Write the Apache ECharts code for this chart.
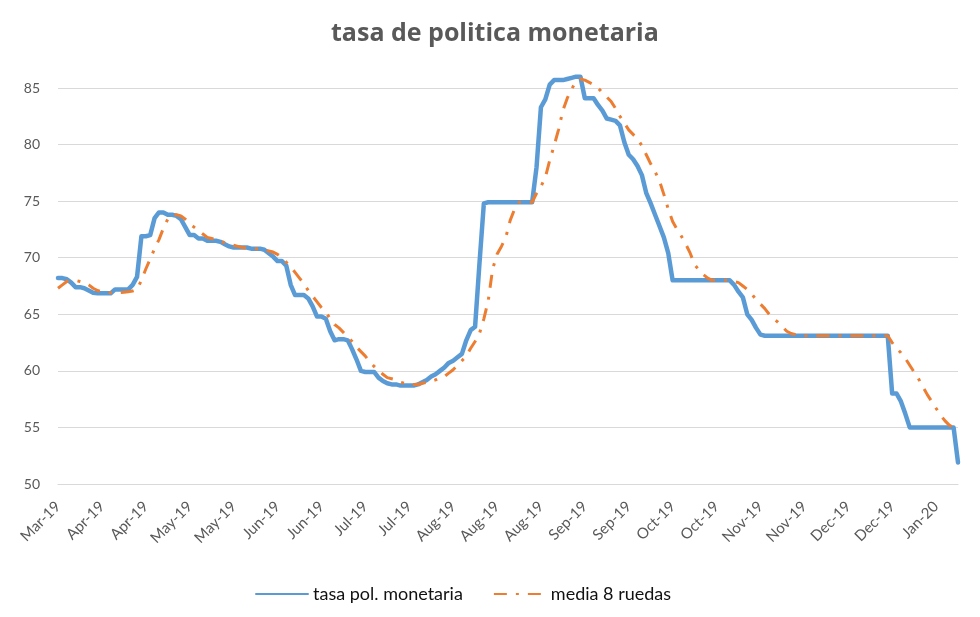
<!DOCTYPE html>
<html>
<head>
<meta charset="utf-8">
<script src="https://cdn.jsdelivr.net/npm/echarts@6/dist/echarts.min.js"></script>
<style>
html,body{margin:0;padding:0;background:#fff;}
#chart{width:980px;height:617px;}
</style>
</head>
<body>
<div id="chart"></div>
<script>
const tickLabels = ["Mar-19","Apr-19","Apr-19","May-19","May-19","Jun-19","Jun-19","Jul-19","Jul-19","Aug-19","Aug-19","Aug-19","Sep-19","Sep-19","Oct-19","Oct-19","Nov-19","Nov-19","Dec-19","Dec-19","Jan-20"];

const tasaPol = [
68.2,68.2,68.1,67.8,67.4,67.4,67.3,67.1,66.9,66.85,
66.85,66.85,66.85,67.2,67.2,67.2,67.2,67.6,68.3,71.9,
71.9,72.0,73.5,74.0,74.0,73.8,73.8,73.7,73.4,72.7,
72.0,72.0,71.7,71.7,71.5,71.5,71.5,71.4,71.2,71.0,
70.9,70.9,70.9,70.9,70.8,70.8,70.8,70.7,70.4,70.1,
69.7,69.7,69.3,67.6,66.7,66.7,66.7,66.4,65.7,64.8,
64.8,64.6,63.5,62.7,62.8,62.8,62.7,61.9,61.0,60.0,
59.9,59.9,59.9,59.4,59.1,58.9,58.8,58.8,58.7,58.7,
58.7,58.7,58.8,59.0,59.2,59.5,59.7,60.0,60.3,60.7,
60.9,61.2,61.5,62.7,63.6,63.9,69.5,74.8,74.9,74.9,
74.9,74.9,74.9,74.9,74.9,74.9,74.9,74.9,74.9,78.0,
83.3,84.0,85.3,85.7,85.7,85.7,85.8,85.9,86.0,86.0,
84.1,84.1,84.1,83.5,83.0,82.3,82.2,82.1,81.7,80.2,
79.1,78.7,78.1,77.3,75.7,74.8,73.8,72.8,71.8,70.4,
68.0,68.0,68.0,68.0,68.0,68.0,68.0,68.0,68.0,68.0,
68.0,68.0,68.0,68.0,67.6,67.0,66.5,65.0,64.5,63.8,
63.2,63.1,63.1,63.1,63.1,63.1,63.1,63.1,63.1,63.1,
63.1,63.1,63.1,63.1,63.1,63.1,63.1,63.1,63.1,63.1,
63.1,63.1,63.1,63.1,63.1,63.1,63.1,63.1,63.1,63.1,
58.0,58.0,57.3,56.2,55.0,55.0,55.0,55.0,55.0,55.0,
55.0,55.0,55.0,55.0,55.0,51.9
];

const media8 = [
67.3,67.6,67.9,68.0,68.0,67.9,67.8,67.6,67.3,67.1,
67.0,66.95,66.9,66.9,66.9,66.95,67.0,67.05,67.2,68.0,
69.0,69.9,70.8,71.6,72.6,73.4,73.8,73.8,73.7,73.4,
73.0,72.7,72.4,72.1,71.8,71.7,71.6,71.5,71.3,71.2,
71.1,71.0,70.9,70.85,70.8,70.8,70.8,70.7,70.6,70.5,
70.3,70.0,69.6,69.2,68.7,68.2,67.7,67.1,66.6,66.1,
65.6,65.2,64.6,64.1,63.8,63.4,63.0,62.6,62.1,61.7,
61.3,60.8,60.4,60.0,59.7,59.4,59.3,59.2,59.0,58.9,
58.8,58.8,58.8,58.9,59.0,59.1,59.2,59.4,59.5,59.8,
60.1,60.5,60.9,61.3,62.0,62.6,63.3,64.6,66.2,69.0,
70.3,71.0,71.8,73.3,74.3,74.9,74.9,74.9,74.9,75.7,
76.3,77.1,78.6,79.9,81.3,83.0,84.1,84.9,85.6,85.8,
85.7,85.5,85.3,85.0,84.6,84.2,83.8,83.2,82.5,81.9,
81.3,80.9,80.5,79.9,79.1,78.3,77.6,76.8,75.6,74.3,
73.2,72.5,71.9,71.2,70.4,69.4,68.9,68.5,68.2,68.0,
68.0,68.0,68.0,68.0,67.9,67.8,67.5,67.2,66.8,66.3,
65.9,65.5,65.0,64.6,64.3,63.9,63.5,63.3,63.2,63.1,
63.1,63.1,63.1,63.1,63.1,63.1,63.1,63.1,63.1,63.1,
63.1,63.1,63.1,63.1,63.1,63.1,63.1,63.1,63.1,63.1,
62.5,62.0,61.6,61.1,60.5,59.9,59.3,58.6,57.9,57.3,
56.7,56.1,55.6,55.2,55.0,54.6
];

const categories = tasaPol.map((_, i) => String(i));

const chart = echarts.init(document.getElementById('chart'), null, {renderer: 'canvas'});
const font = 'Lato, "Open Sans", sans-serif';
chart.setOption({
  animation: false,
  backgroundColor: '#ffffff',
  title: {
    text: 'tasa de politica monetaria',
    left: 331,
    top: 21,
    padding: 0,
    textStyle: {fontFamily: '"Open Sans", Lato, sans-serif', fontWeight: 'bold', fontSize: 25, color: '#595959'}
  },
  legend: {
    left: 250,
    top: 580,
    itemWidth: 52,
    itemHeight: 14,
    itemGap: 30,
    itemStyle: {opacity: 0},
    textStyle: {fontFamily: font, fontSize: 18, color: '#111111'},
    data: ['tasa pol. monetaria', 'media 8 ruedas']
  },
  grid: {left: 58, right: 22, top: 88, bottom: 133, containLabel: false},
  xAxis: {
    type: 'category',
    data: categories,
    boundaryGap: false,
    axisLine: {lineStyle: {color: '#d9d9d9', width: 1}},
    axisTick: {show: false},
    splitLine: {show: false},
    axisLabel: {
      interval: 9,
      rotate: 45,
      margin: 20,
      fontFamily: font,
      fontSize: 15,
      color: '#595959',
      formatter: function (v, idx) { return idx % 10 === 0 ? tickLabels[idx / 10] : ''; }
    }
  },
  yAxis: {
    type: 'value',
    min: 50,
    max: 85,
    interval: 5,
    axisLine: {show: false},
    axisTick: {show: false},
    splitLine: {lineStyle: {color: '#d9d9d9', width: 1}},
    axisLabel: {margin: 18, fontFamily: font, fontSize: 14, color: '#595959'}
  },
  series: [
    {
      name: 'tasa pol. monetaria',
      type: 'line',
      data: tasaPol,
      symbol: 'none',
      clip: false,
      lineStyle: {color: '#5B9BD5', width: 4.5, join: 'round', cap: 'round'},
      itemStyle: {color: '#5B9BD5'},
      z: 2
    },
    {
      name: 'media 8 ruedas',
      type: 'line',
      data: media8,
      symbol: 'none',
      clip: false,
      lineStyle: {color: '#ED7D31', width: 3, type: [13, 9, 3, 9]},
      itemStyle: {color: '#ED7D31'},
      z: 3
    }
  ]
});
</script>
</body>
</html>
